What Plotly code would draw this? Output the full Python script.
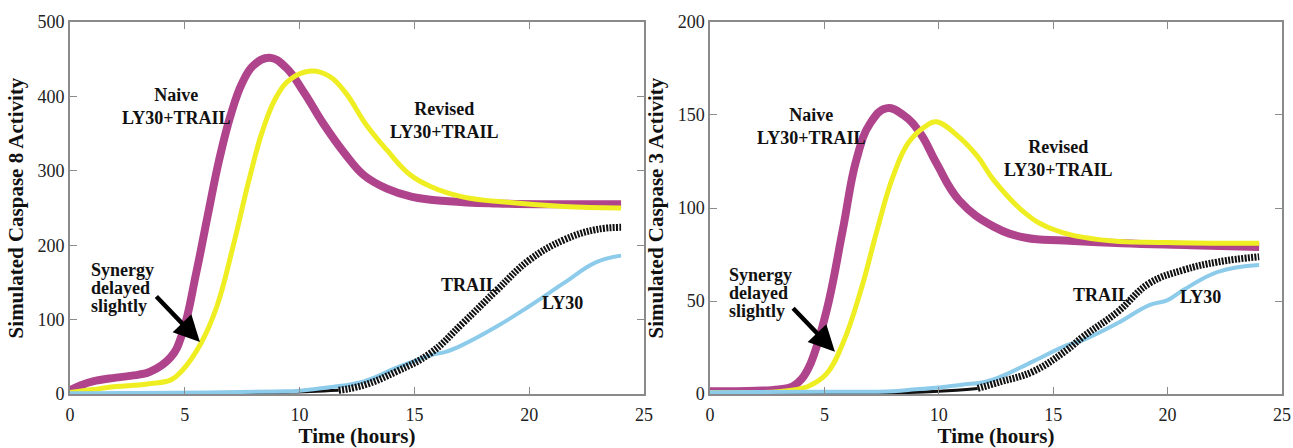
import plotly.graph_objects as go

# ---------------- data ----------------
# Left panel: Simulated Caspase 8 Activity
naive8_t = [0, 0.5, 1, 2, 3, 3.5, 4.4, 4.9, 5.5, 6.0, 6.5, 7.0, 7.5, 8.0, 8.7, 9.4, 10.2, 11.0, 12.0, 12.8, 13.8, 14.9, 16.5, 18.6, 21, 24]
naive8_v = [5, 12, 17, 22, 26, 30, 50, 82, 163, 240, 315, 375, 418, 442, 452, 439, 405, 365, 322, 294, 276, 265, 259, 256, 255, 255]
rev8_t = [0, 1, 2, 3, 3.5, 4.4, 4.9, 5.7, 6.4, 7.1, 7.8, 8.4, 9.0, 9.6, 10.5, 11.3, 12.0, 12.9, 13.8, 14.8, 15.7, 17.1, 19.3, 21.5, 24]
rev8_v = [2, 6, 10, 12, 14, 19, 32, 68, 118, 198, 288, 355, 400, 423, 434, 427, 405, 362, 328, 295, 279, 265, 257, 252, 250]
trail8_t = [0, 3, 6, 9, 10.5, 11.7, 12.8, 14.2, 15.7, 17.1, 18.6, 20.0, 21.5, 22.9, 24]
trail8_v = [0.5, 1, 1.5, 2.5, 3.5, 5, 12, 30, 55, 95, 140, 180, 207, 221, 224]
ly8_t = [0, 3, 6, 9, 10, 11.3, 12.8, 14.2, 15.7, 16.4, 17.1, 18.6, 20.0, 21.5, 22.9, 24]
ly8_v = [1, 1.5, 2, 3.5, 4.5, 9, 17, 35, 52, 57, 66, 91, 118, 149, 177, 186]

# Right panel: Simulated Caspase 3 Activity
naive3_t = [0, 2, 3, 3.6, 4.0, 4.4, 5.1, 5.8, 6.4, 7.0, 7.7, 8.45, 9.2, 9.9, 10.9, 12.4, 13.8, 15.5, 18, 21, 24]
naive3_v = [1.5, 1.8, 2.5, 4, 8, 16.5, 45, 88, 126, 145.5, 153.6, 150, 140, 124, 104, 90, 84, 82.5, 81, 80, 79]
rev3_t = [0, 2, 3, 4.0, 4.4, 5.1, 5.8, 6.6, 7.3, 8.0, 8.7, 9.5, 9.9, 10.9, 11.7, 12.4, 13.8, 14.9, 17, 20, 24]
rev3_v = [0.8, 0.8, 1.2, 3, 4.8, 11, 27, 56, 88, 117, 135.6, 144.6, 146.4, 138, 127.6, 115, 97, 89, 83, 81.4, 81]
trail3_t = [0, 4, 8, 10, 11.7, 12.7, 14.1, 15.6, 16.3, 17.8, 19.2, 20.7, 22.2, 24]
trail3_v = [0.5, 0.5, 0.6, 1.5, 3, 6.6, 12, 23.7, 30.8, 44, 59.5, 66.7, 71, 73.8]
ly3_t = [0, 5, 8, 9, 10, 11, 12, 12.7, 14.1, 15.6, 16.3, 17.8, 19.2, 20.0, 20.7, 22.2, 24]
ly3_v = [1, 1.2, 1.5, 2.5, 3.5, 5, 6.5, 9.3, 17.4, 26.3, 29, 38, 47.8, 50.5, 56, 65.7, 69.4]

x_ticks = [0, 5, 10, 15, 20, 25]
y8_ticks = [0, 100, 200, 300, 400, 500]
y3_ticks = [0, 50, 100, 150, 200]
trail_solid_until = 11.7   # TRAIL curve drawn solid up to here, striped after

# ---------------- styling ----------------
PURPLE = "#b0448c"
YELLOW = "#eeee22"
CYAN = "#8ccbea"
BLACK = "#111111"
SERIF = "Liberation Serif"

fig = go.Figure()
SM = 1.2


def add_panel(xa, ya, nt, nv, rt, rv, tt, tv, lt, lv):
    fig.add_trace(go.Scatter(x=nt, y=nv, mode="lines", xaxis=xa, yaxis=ya,
                             line=dict(color=PURPLE, width=8, shape="spline", smoothing=SM),
                             name="Naive LY30+TRAIL", showlegend=False))
    fig.add_trace(go.Scatter(x=rt, y=rv, mode="lines", xaxis=xa, yaxis=ya,
                             line=dict(color=YELLOW, width=5, shape="spline", smoothing=SM),
                             name="Revised LY30+TRAIL", showlegend=False))
    k = tt.index(trail_solid_until)
    fig.add_trace(go.Scatter(x=tt[:k + 1], y=tv[:k + 1], mode="lines", xaxis=xa, yaxis=ya,
                             line=dict(color=BLACK, width=3, shape="spline", smoothing=SM),
                             name="TRAIL", showlegend=False))
    fig.add_trace(go.Scatter(x=lt, y=lv, mode="lines", xaxis=xa, yaxis=ya,
                             line=dict(color=CYAN, width=4, shape="spline", smoothing=SM),
                             name="LY30", showlegend=False))
    fig.add_trace(go.Scatter(x=tt[k:], y=tv[k:], mode="lines", xaxis=xa, yaxis=ya,
                             line=dict(color=BLACK, width=7, dash="2px,1.3px", shape="spline", smoothing=SM),
                             name="TRAIL", showlegend=False))


add_panel("x", "y", naive8_t, naive8_v, rev8_t, rev8_v, trail8_t, trail8_v, ly8_t, ly8_v)
add_panel("x2", "y2", naive3_t, naive3_v, rev3_t, rev3_v, trail3_t, trail3_v, ly3_t, ly3_v)

axis_common = dict(showline=True, linecolor="#8a8a8a", linewidth=1.5, mirror="ticks",
                   ticks="inside", ticklen=7, tickcolor="#8a8a8a", tickwidth=1.2,
                   showgrid=False, zeroline=False,
                   tickfont=dict(family=SERIF, size=18, color="#222"), automargin=False)

TITLE_FONT = dict(family=SERIF, size=21, color="#111", weight="bold")

fig.update_layout(
    width=1293, height=448,
    margin=dict(l=0, r=0, t=0, b=0),
    paper_bgcolor="white", plot_bgcolor="white",
    font=dict(family=SERIF),
    showlegend=False,
    xaxis=dict(domain=[0.0541, 0.4981], range=[0, 25], tickvals=x_ticks, anchor="y",
               title=dict(text="Time (hours)", font=TITLE_FONT, standoff=18),
               ticklabelstandoff=4, **axis_common),
    yaxis=dict(domain=[0.1205, 0.9509], range=[0, 500], tickvals=y8_ticks, anchor="x",
               title=dict(text="Simulated Caspase 8 Activity", font=TITLE_FONT, standoff=8),
               **axis_common),
    xaxis2=dict(domain=[0.5491, 0.9915], range=[0, 25], tickvals=x_ticks, anchor="y2",
                title=dict(text="Time (hours)", font=TITLE_FONT, standoff=18),
                ticklabelstandoff=4, **axis_common),
    yaxis2=dict(domain=[0.1205, 0.9509], range=[0, 200], tickvals=y3_ticks, anchor="x2",
                title=dict(text="Simulated Caspase 3 Activity", font=TITLE_FONT, standoff=8),
                **axis_common),
)

ANN_FONT = dict(family=SERIF, size=18, color="#111", weight="bold")


def label(xref, yref, x, y, text, xanchor="center"):
    fig.add_annotation(x=x, y=y, xref=xref, yref=yref, text=text, showarrow=False,
                       xanchor=xanchor, yanchor="middle", font=ANN_FONT)


def arrow(xref, yref, x, y, ax, ay):
    fig.add_annotation(x=x, y=y, ax=ax, ay=ay, xref=xref, yref=yref, axref=xref, ayref=yref,
                       text="", showarrow=True, arrowhead=2, arrowsize=1.15, arrowwidth=4.5,
                       arrowcolor="#000")


# left panel labels
label("x", "y", 4.66, 386, "Naive<br>LY30+TRAIL")
label("x", "y", 13.85, 368, "Revised<br>LY30+TRAIL", xanchor="left")
label("x", "y", 0.83, 167, "Synergy", xanchor="left")
label("x", "y", 0.83, 143, "delayed", xanchor="left")
label("x", "y", 0.83, 118, "slightly", xanchor="left")
label("x", "y", 17.42, 147, "TRAIL")
label("x", "y", 21.44, 122, "LY30")
arrow("x", "y", 5.66, 70, 3.70, 133)

# right panel labels
label("x2", "y2", 4.44, 144, "Naive<br>LY30+TRAIL")
label("x2", "y2", 12.76, 126.6, "Revised<br>LY30+TRAIL", xanchor="left")
label("x2", "y2", 0.74, 64, "Synergy", xanchor="left")
label("x2", "y2", 0.74, 54.3, "delayed", xanchor="left")
label("x2", "y2", 0.74, 44.6, "slightly", xanchor="left")
label("x2", "y2", 17.12, 53.2, "TRAIL")
label("x2", "y2", 21.42, 52, "LY30")
arrow("x2", "y2", 5.46, 22.7, 3.57, 46.9)

fig.write_html("out.html", config={"displayModeBar": False},
               post_script="document.body.style.margin='0px';")
